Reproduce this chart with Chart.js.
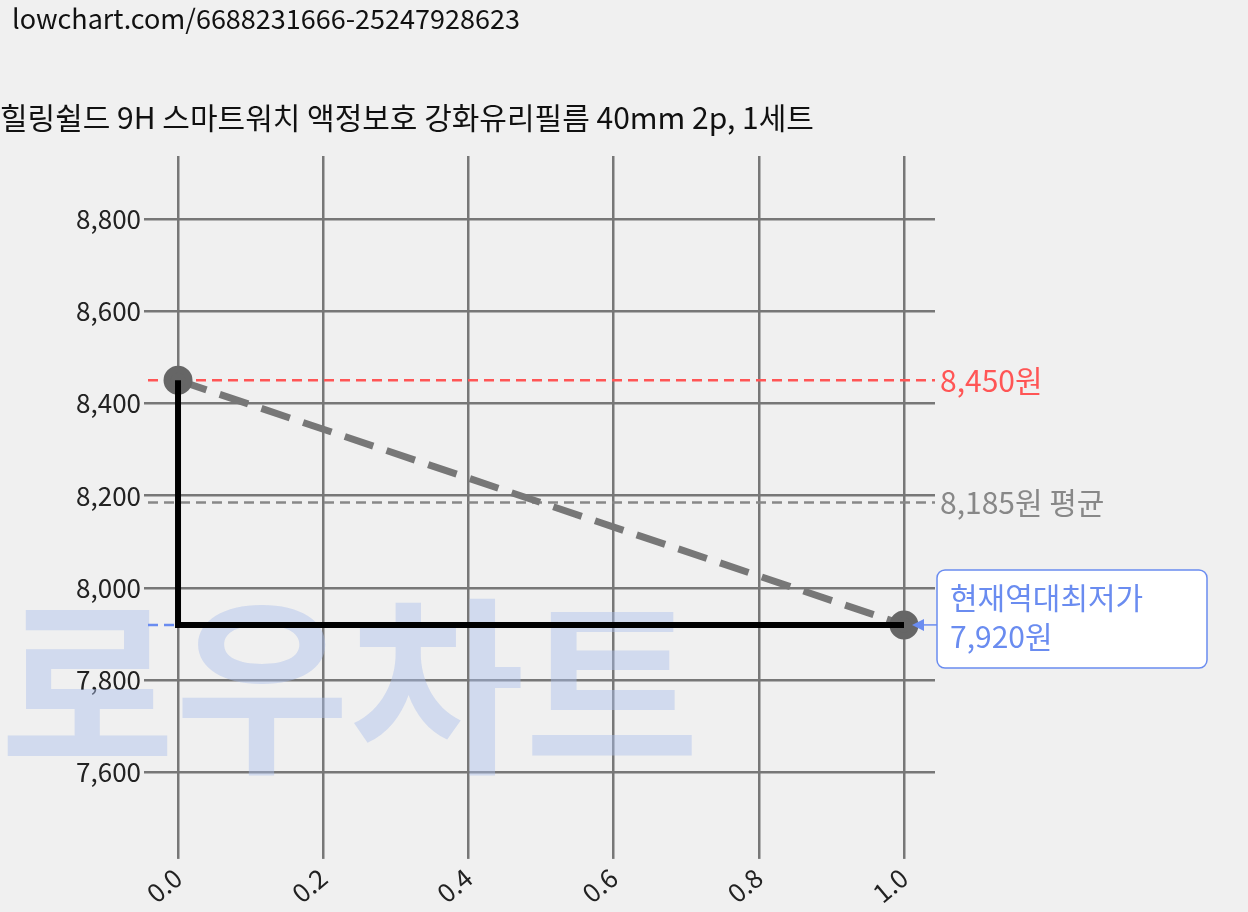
<!DOCTYPE html>
<html><head><meta charset="utf-8">
<script src="https://cdn.jsdelivr.net/npm/chart.js@4"></script>
<style>body{margin:0;background:#f0f0f0;font-family:"Noto Sans CJK KR",sans-serif;overflow:hidden}
#u{position:absolute;left:12px;top:-2px;font-size:27px;color:#111;z-index:2}
#c{position:absolute;left:0;top:0}</style></head>
<body><canvas id="c" width="1248" height="912"></canvas><div id="u">lowchart.com/6688231666-25247928623</div>
<script>
const xTicks=[0,0.2,0.4,0.6,0.8,1.0];
const yTicks=[7600,7800,8000,8200,8400,8600,8800];
const historyX=[0,0,1];
const historyY=[8450,7920,7920];
const trendX=[0,1];
const trendY=[8450,7920];
const maxPrice=8450, avgPrice=8185, minPrice=7920;
const F='"Noto Sans CJK KR",sans-serif';
const deco={id:'deco',beforeDatasetsDraw(ch){
 const c=ch.ctx,x=ch.scales.x,y=ch.scales.y;
 c.save();
 c.font='bold 190px '+F;c.fillStyle='rgba(170,190,235,0.45)';c.textBaseline='alphabetic';
 c.fillText('로우차트',0,758);
 function hl(v,col,x2){c.strokeStyle=col;c.lineWidth=2.5;c.setLineDash([10,6]);c.beginPath();c.moveTo(148,y.getPixelForValue(v));c.lineTo(x2,y.getPixelForValue(v));c.stroke();}
 hl(maxPrice,'#ff5555',935);hl(avgPrice,'#888',935);hl(minPrice,'#6a8cf0',x.getPixelForValue(1));
 c.setLineDash([]);c.font='30px '+F;c.textBaseline='middle';
 c.fillStyle='#ff5555';c.fillText('8,450원',940,y.getPixelForValue(maxPrice));
 c.fillStyle='#888';c.fillText('8,185원 평균',940,y.getPixelForValue(avgPrice));
 c.restore();},
 afterDatasetsDraw(ch){
 const c=ch.ctx,x=ch.scales.x,y=ch.scales.y;c.save();
 const py=y.getPixelForValue(minPrice),px=x.getPixelForValue(1);
 c.fillStyle='#fff';c.strokeStyle='#6a8cf0';c.lineWidth=1.5;
 c.beginPath();c.roundRect(937,570,270,98,8);c.fill();c.stroke();
 c.beginPath();c.moveTo(937,py);c.lineTo(px+10,py);c.stroke();
 c.fillStyle='#6a8cf0';c.beginPath();c.moveTo(px+8,py);c.lineTo(px+20,py-6);c.lineTo(px+20,py+6);c.fill();
 c.font='30px '+F;c.textBaseline='middle';c.fillText('현재역대최저가',950,598);c.fillText('7,920원',950,637);
 c.restore();}};
new Chart(document.getElementById('c'),{type:'scatter',
 data:{datasets:[
  {data:historyX.map((v,i)=>({x:v,y:historyY[i]})),showLine:true,borderColor:'#000',borderWidth:6,pointRadius:0,order:1},
  {data:trendX.map((v,i)=>({x:v,y:trendY[i]})),showLine:true,borderColor:'#777',borderWidth:7,borderDash:[30,14],pointRadius:11,pointBackgroundColor:'#666',pointBorderColor:'#666',order:2}]},
 plugins:[deco],
 options:{responsive:false,animation:false,devicePixelRatio:1,
  layout:{padding:{left:0,right:313,top:20,bottom:0}},
  plugins:{legend:{display:false},tooltip:{enabled:false},
   title:{display:true,text:'힐링쉴드 9H 스마트워치 액정보호 강화유리필름 40mm 2p, 1세트',align:'start',color:'#111',font:{family:F,size:30,weight:'normal'},padding:{top:80,bottom:20},position:'top'}},
  scales:{
   x:{type:'linear',min:-0.0386,max:1.0427,afterBuildTicks:s=>{s.ticks=xTicks.map(v=>({value:v}))},
    grid:{color:'#777',lineWidth:2.5,borderDash:[2,5],drawTicks:true,tickLength:6},border:{display:false},
    ticks:{color:'#222',font:{family:F,size:26},maxRotation:40,minRotation:40,callback:v=>v.toFixed(1)}},
   y:{min:7426,max:8936,afterBuildTicks:s=>{s.ticks=yTicks.map(v=>({value:v}))},
    grid:{color:'#777',lineWidth:2.5,borderDash:[2,5],tickLength:6},border:{display:false},
    ticks:{color:'#222',font:{family:F,size:26},callback:v=>v.toLocaleString('en-US')},afterFit:s=>{s.width=150}}}}});
</script></body></html>
